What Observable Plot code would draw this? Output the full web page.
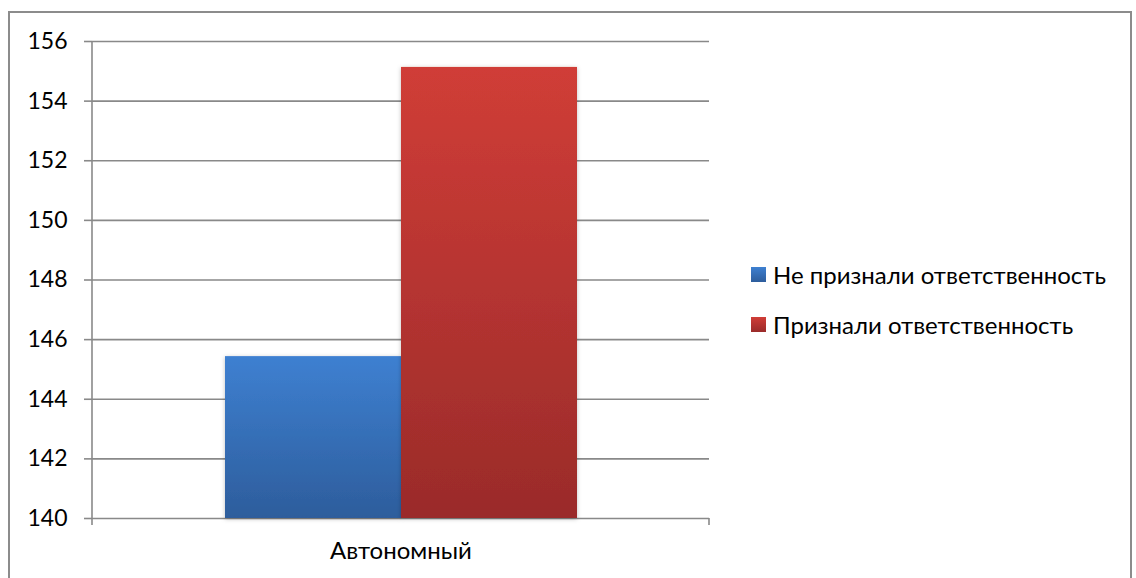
<!DOCTYPE html>
<html>
<head>
<meta charset="utf-8">
<script src="https://cdn.jsdelivr.net/npm/d3@7"></script>
<script src="https://cdn.jsdelivr.net/npm/@observablehq/plot@0.6"></script>
<style>
  html, body { margin: 0; padding: 0; background: #fff; }
  #wrap { position: relative; width: 1136px; height: 578px; overflow: hidden; font-family: Lato, "Noto Sans", sans-serif; }
  #border { position: absolute; left: 8px; top: 11px; width: 1124px; height: 700px; border: 2px solid #8c8c8c; box-sizing: border-box; }
  #chart { position: absolute; left: 0; top: 0; }
  #legend { position: absolute; left: 751px; top: 258px; font-size: 24px; color: #000; }
  .li { display: flex; align-items: center; height: 32px; margin-bottom: 18px; white-space: nowrap; }
  .sw { width: 15px; height: 15px; margin-right: 7px; }
</style>
</head>
<body>
<div id="wrap">
  <div id="border"></div>
  <div id="chart"></div>
  <div id="legend"></div>
</div>
<script>
const categories = ["Автономный"];
const series = ["Не признали ответственность", "Признали ответственность"];
const values = [145.43, 155.13];
const yTicks = [140, 142, 144, 146, 148, 150, 152, 154, 156];
const gradTop = ["#3e80d1", "#d03d37"];
const gradBottom = ["#2d5d9c", "#9a2b2a"];

const data = series.map((s, i) => ({category: categories[0], series: s, value: values[i]}));
const gradIds = series.map((s, i) => "grad" + i);

const defsMark = (index, scales, vals, dims) => {
  const g = d3.create("svg:g");
  const defs = g.append("defs");
  series.forEach((s, i) => {
    const lg = defs.append("linearGradient").attr("id", gradIds[i]).attr("x1", 0).attr("y1", 0).attr("x2", 0).attr("y2", 1);
    lg.append("stop").attr("offset", "0%").attr("stop-color", gradTop[i]);
    lg.append("stop").attr("offset", "100%").attr("stop-color", gradBottom[i]);
  });
  const f = defs.append("filter").attr("id", "shadow").attr("x", "-10%").attr("y", "-10%").attr("width", "120%").attr("height", "120%");
  f.append("feDropShadow").attr("dx", 0).attr("dy", 1).attr("stdDeviation", 2).attr("flood-color", "#000").attr("flood-opacity", 0.25);
  return g.node();
};

const axisLines = (index, scales, vals, dims) => {
  const {width, height, marginLeft, marginRight, marginTop, marginBottom} = dims;
  const g = d3.create("svg:g").attr("stroke", "#898989").attr("stroke-width", 1.6);
  const bottom = height - marginBottom;
  g.append("line").attr("x1", marginLeft).attr("x2", marginLeft).attr("y1", marginTop).attr("y2", bottom + 7);
  g.append("line").attr("x1", width - marginRight).attr("x2", width - marginRight).attr("y1", bottom).attr("y2", bottom + 7);
  return g.node();
};

const plot = Plot.plot({
  width: 1136,
  height: 578,
  marginLeft: 92,
  marginRight: 427,
  marginTop: 41,
  marginBottom: 60,
  style: {fontFamily: "Lato, 'Noto Sans', sans-serif", fontSize: "23px", color: "#000", background: "transparent"},
  x: {type: "band", domain: series, paddingInner: 0, paddingOuter: 0.748, axis: null},
  y: {domain: [yTicks[0], yTicks[yTicks.length - 1]], axis: null},
  marks: [
    defsMark,
    Plot.ruleY(yTicks, {stroke: "#898989", strokeWidth: 1.6, strokeOpacity: 1}),
    Plot.barY(data, {
      x: "series",
      y1: () => yTicks[0],
      y2: "value",
      fill: (d) => `url(#${gradIds[series.indexOf(d.series)]})`,
      inset: 0
    }),
    Plot.axisY({ticks: yTicks, tickSize: 8, tickPadding: 17, tickFormat: d => String(d), stroke: "#898989", strokeWidth: 1.6, fontSize: 23, fill: "#000", label: null}),
    axisLines,
    Plot.text(categories, {text: d => d, frameAnchor: "bottom", dy: 33, lineAnchor: "middle", fontSize: 24, fill: "#000"})
  ]
});
document.getElementById("chart").appendChild(plot);

d3.select(plot).selectAll("g[aria-label='bar'] rect").attr("filter", "url(#shadow)");

const legend = d3.select("#legend");
series.forEach((s, i) => {
  const row = legend.append("div").attr("class", "li");
  row.append("div").attr("class", "sw").style("background", `linear-gradient(${gradTop[i]}, ${gradBottom[i]})`);
  row.append("span").text(s);
});
</script>
</body>
</html>
